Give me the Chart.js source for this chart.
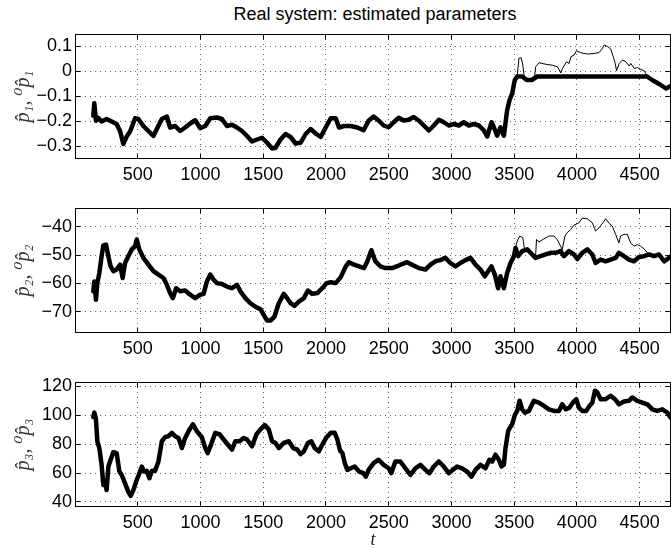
<!DOCTYPE html>
<html>
<head>
<meta charset="utf-8">
<script src="https://cdn.jsdelivr.net/npm/chart.js@4.4.1/dist/chart.umd.min.js"></script>
<style>
  body { margin: 0; background: #fff; width: 671px; height: 549px; overflow: hidden; position: relative; }
  canvas { position: absolute; left: 0; }
  #title { position: absolute; left: 75px; width: 600px; top: 5px; text-align: center;
           font: 18px/18px "Liberation Sans", Arial, Helvetica, sans-serif; color: #000; }
</style>
</head>
<body>
<div id="title">Real system: estimated parameters</div>
<canvas id="c1" width="671" height="185" style="top:0px"></canvas>
<canvas id="c2" width="671" height="174" style="top:185px"></canvas>
<canvas id="c3" width="671" height="190" style="top:359px"></canvas>
<script>
// shared x axis
const xTicks = [500, 1000, 1500, 2000, 2500, 3000, 3500, 4000, 4500];
const xMin = 0, xMax = 4750;

// panel 1: p1 estimate (thick) and 0p1 (thin, only where it leaves the thick one)
const t1 = [146,154,167,186,212,252,292,332,359,385,412,439,479,505,545,585,625,652,692,732,758,798,838,878,918,958,998,1038,1078,1131,1171,1211,1251,1291,1331,1371,1411,1451,1491,1531,1571,1598,1638,1678,1718,1758,1798,1838,1878,1918,1958,1998,2038,2078,2104,2144,2197,2250,2300,2340,2380,2420,2460,2500,2540,2580,2620,2660,2700,2740,2780,2820,2860,2900,2940,2979,3019,3059,3099,3139,3179,3219,3259,3285,3320,3338,3365,3391,3418,3444,3463,3484,3505,3524,3564,3600,3640,3684,4560,4603,4656,4710,4756];
const p1 = [-0.177,-0.127,-0.197,-0.186,-0.200,-0.190,-0.200,-0.210,-0.238,-0.290,-0.260,-0.240,-0.187,-0.190,-0.218,-0.238,-0.258,-0.230,-0.190,-0.180,-0.224,-0.218,-0.238,-0.224,-0.208,-0.195,-0.227,-0.218,-0.187,-0.184,-0.190,-0.218,-0.213,-0.224,-0.238,-0.258,-0.280,-0.272,-0.265,-0.285,-0.308,-0.305,-0.272,-0.250,-0.262,-0.288,-0.285,-0.250,-0.230,-0.248,-0.262,-0.224,-0.187,-0.187,-0.224,-0.218,-0.218,-0.224,-0.235,-0.197,-0.180,-0.196,-0.216,-0.223,-0.203,-0.185,-0.196,-0.193,-0.182,-0.196,-0.216,-0.236,-0.216,-0.193,-0.203,-0.216,-0.210,-0.216,-0.203,-0.216,-0.210,-0.216,-0.236,-0.260,-0.203,-0.223,-0.257,-0.223,-0.257,-0.155,-0.115,-0.088,-0.034,-0.020,-0.020,-0.034,-0.034,-0.020,-0.020,-0.035,-0.050,-0.068,-0.056];
const t1Ref = [3505,3524,3538,3556,3569,3580,3630,3660,3672,3699,3752,3805,3845,3872,3885,3917,3938,3952,3978,3997,4031,4084,4137,4177,4199,4218,4244,4271,4290,4306,4316,4337,4364,4390,4417,4430,4457,4483,4510,4536,4563];
const p1Ref = [-0.034,-0.020,0.053,0.055,0.026,-0.020,-0.034,-0.030,0.019,0.035,0.029,0.025,0.019,-0.006,0.012,0.039,0.032,0.059,0.066,0.083,0.075,0.070,0.072,0.076,0.089,0.106,0.100,0.089,0.059,0.032,0.003,0.032,0.046,0.039,0.022,0.032,0.012,0.016,0.008,0.003,-0.020];
const yTicks1 = [-0.3, -0.2, -0.1, 0, 0.1];

// panel 2
const t2 = [146,154,167,178,194,212,226,247,266,284,306,332,359,380,399,425,452,479,492,513,545,585,625,665,705,732,758,780,806,838,878,918,958,998,1025,1051,1078,1105,1131,1171,1211,1251,1291,1318,1358,1398,1438,1478,1504,1531,1558,1590,1624,1664,1691,1718,1749,1784,1824,1856,1891,1931,1971,2005,2038,2078,2118,2158,2184,2224,2264,2304,2330,2362,2394,2434,2473,2527,2580,2646,2686,2740,2793,2833,2872,2912,2952,2992,3032,3072,3112,3152,3192,3232,3266,3293,3319,3346,3372,3391,3418,3444,3471,3498,3511,3532,3564,3604,3630,3670,3710,3750,3790,3830,3870,3897,3936,3976,4003,4043,4083,4123,4149,4189,4229,4269,4309,4335,4375,4415,4455,4495,4535,4575,4615,4655,4695,4734,4756];
const p2 = [-62.8,-59.3,-65.8,-59.9,-56.3,-50.4,-46.6,-46.3,-50.4,-54.0,-55.7,-55.1,-53.4,-58.1,-52.8,-50.4,-48.0,-46.9,-44.5,-48.0,-51.0,-53.4,-55.7,-56.9,-58.1,-60.5,-63.4,-65.2,-61.7,-62.8,-62.5,-64.0,-65.2,-64.0,-63.7,-59.3,-56.9,-58.7,-59.9,-60.2,-61.1,-61.7,-60.5,-62.8,-65.2,-67.0,-68.2,-69.1,-71.1,-73.1,-73.1,-71.7,-67.0,-63.7,-65.2,-67.0,-67.9,-66.4,-65.2,-62.5,-63.7,-63.4,-61.7,-59.9,-59.6,-59.9,-57.8,-54.0,-52.5,-53.4,-54.0,-54.6,-52.2,-48.3,-52.2,-54.0,-54.6,-54.6,-53.7,-52.5,-53.4,-54.6,-55.1,-53.4,-52.2,-51.8,-51.0,-52.8,-54.0,-52.8,-51.8,-51.0,-53.4,-55.1,-57.5,-55.7,-54.0,-56.9,-61.7,-57.5,-61.7,-56.3,-52.8,-50.4,-47.5,-50.4,-48.6,-48.0,-49.2,-51.0,-50.4,-49.8,-49.2,-49.2,-48.6,-50.4,-48.6,-49.8,-51.4,-49.2,-48.0,-49.8,-52.8,-51.6,-52.2,-51.6,-51.0,-49.2,-50.4,-51.6,-52.2,-50.7,-50.4,-49.8,-50.4,-49.8,-52.2,-51.0,-50.2];
const t2Ref = [3511,3524,3545,3569,3585,3604,3630,3670,3678,3697,3737,3777,3817,3843,3883,3905,3923,3950,3976,4016,4043,4083,4123,4149,4176,4208,4229,4256,4282,4309,4335,4349,4375,4402,4428,4455,4481,4508,4535,4575];
const p2Ref = [-47.5,-45.1,-43.3,-43.9,-48.6,-48.0,-49.2,-51.0,-44.5,-45.4,-44.3,-43.3,-43.3,-44.5,-48.0,-43.3,-42.1,-41.0,-39.5,-38.6,-37.0,-37.2,-38.6,-41.5,-40.4,-38.6,-37.2,-38.8,-39.8,-42.7,-45.7,-43.3,-42.7,-42.7,-45.7,-46.9,-46.3,-46.9,-47.8,-49.8];
const yTicks2 = [-70, -60, -50, -40];

// panel 3 (both estimates coincide)
const t3 = [146,154,167,178,194,212,226,239,252,266,284,306,332,354,372,399,425,444,465,492,519,532,550,572,593,612,638,665,692,718,745,772,798,825,852,878,913,940,971,1011,1038,1057,1084,1118,1153,1185,1217,1251,1278,1312,1344,1371,1411,1446,1478,1512,1544,1571,1598,1624,1664,1704,1739,1771,1798,1824,1856,1883,1910,1944,1971,2005,2038,2070,2091,2113,2131,2150,2171,2197,2229,2264,2299,2318,2340,2380,2420,2460,2500,2521,2553,2593,2633,2673,2713,2753,2793,2825,2859,2899,2939,2979,3011,3045,3085,3125,3160,3192,3232,3271,3303,3325,3351,3378,3399,3418,3431,3452,3466,3484,3505,3524,3543,3564,3585,3617,3657,3697,3737,3777,3817,3857,3883,3910,3942,3968,3995,4016,4043,4075,4101,4123,4144,4163,4189,4229,4269,4303,4335,4375,4415,4442,4481,4522,4562,4601,4641,4681,4721,4748];
const p3 = [98.8,101.8,97.2,82.0,77.3,65.7,51.7,54.0,48.2,64.5,69.2,74.5,73.8,61.0,58.7,52.9,47.0,44.2,48.2,55.2,61.0,64.5,61.0,61.5,56.4,61.5,61.5,68.0,82.0,84.8,85.5,87.8,85.5,84.3,77.3,84.3,90.2,93.7,89.0,84.8,77.3,73.8,79.7,87.8,86.7,83.2,79.7,76.2,82.0,82.0,84.3,83.2,78.5,86.7,90.2,93.2,90.2,82.0,80.8,77.3,80.8,82.0,77.3,76.2,73.1,75.0,80.8,82.0,77.3,75.0,79.7,84.8,87.8,87.8,83.2,75.5,73.8,66.9,62.2,63.3,64.5,61.0,59.9,57.5,62.2,66.9,69.2,65.7,63.3,60.0,68.0,68.0,63.3,58.7,63.3,65.7,62.2,59.9,64.5,68.0,64.5,59.9,62.2,64.5,63.3,61.0,57.5,62.2,65.7,63.3,69.2,68.0,72.7,69.2,64.5,65.7,77.3,89.0,91.3,93.7,100.0,103.0,110.0,104.1,101.8,103.0,110.0,108.8,106.5,104.1,103.0,103.0,107.6,104.1,105.3,108.8,111.1,105.3,103.0,103.0,106.5,108.8,117.0,115.8,111.1,111.1,113.5,111.1,107.6,109.5,110.0,112.3,110.0,108.8,107.6,104.1,103.0,104.1,101.8,98.3];
const yTicks3 = [40, 60, 80, 100, 120];

const sans = '"Liberation Sans", Arial, Helvetica, sans-serif';
const serif = '"Liberation Serif", "DejaVu Serif", serif';

function pts(ts, vs) {
  return ts.map((t, i) => ({ x: t, y: vs[i] }));
}

function fmt(v) {
  return v < 0 ? '\u2212' + String(-v) : String(v);
}

// box round the axes with MATLAB style inward ticks
const frame = {
  id: 'frame',
  afterDraw(chart) {
    const { ctx, chartArea: a, scales: { x, y } } = chart;
    const al = p => Math.round(p - 0.5) + 0.5;
    const L = a.left + 0.5, R = a.right - 0.5, T = a.top + 0.5, B = a.bottom - 0.5;
    ctx.save();
    ctx.strokeStyle = '#000';
    ctx.lineWidth = 1;
    ctx.strokeRect(L, T, R - L, B - T);
    ctx.beginPath();
    x.ticks.forEach(t => {
      const px = al(x.getPixelForValue(t.value));
      ctx.moveTo(px, B); ctx.lineTo(px, B - 5);
      ctx.moveTo(px, T); ctx.lineTo(px, T + 5);
    });
    y.ticks.forEach(t => {
      const py = al(y.getPixelForValue(t.value));
      ctx.moveTo(L, py); ctx.lineTo(L + 5, py);
      ctx.moveTo(R, py); ctx.lineTo(R - 5, py);
    });
    ctx.stroke();
    ctx.restore();
  }
};

function makeChart(id, thick, thin, yMin, yMax, yTicks, yLabel, padTop, xHeight, xLabel) {
  const datasets = [];
  if (thin) {
    datasets.push({ data: thin, borderColor: '#000', borderWidth: 1, pointRadius: 0, clip: 0 });
  }
  datasets.push({ data: thick, borderColor: '#000', borderWidth: 4.5, pointRadius: 0, clip: 0 });

  return new Chart(document.getElementById(id), {
    type: 'line',
    data: { datasets },
    options: {
      responsive: false,
      animation: false,
      events: [],
      layout: { padding: { top: padTop, left: 0, right: 0, bottom: 0 } },
      plugins: { legend: { display: false }, tooltip: { enabled: false } },
      elements: { line: { tension: 0, borderJoinStyle: 'round', borderCapStyle: 'round' } },
      scales: {
        x: {
          type: 'linear',
          min: xMin,
          max: xMax,
          afterBuildTicks: s => { s.ticks = xTicks.map(v => ({ value: v })); },
          afterFit: s => { s.height = xHeight; },
          grid: { color: 'rgba(0,0,0,0.6)', lineWidth: 1, drawTicks: false },
          border: { display: false, dash: [1, 4] },
          ticks: { color: '#000', font: { family: sans, size: 18 }, padding: 5, maxRotation: 0, autoSkip: false,
                   callback: v => String(v) },
          title: xLabel ? { display: true, text: xLabel, color: '#222',
                            font: { family: serif, style: 'italic', size: 18, lineHeight: 1 },
                            padding: { top: 0, bottom: 0 } } : { display: false }
        },
        y: {
          type: 'linear',
          min: yMin,
          max: yMax,
          afterBuildTicks: s => { s.ticks = yTicks.map(v => ({ value: v })); },
          afterFit: s => { s.width = 75; },
          grid: { color: 'rgba(0,0,0,0.6)', lineWidth: 1, drawTicks: false },
          border: { display: false, dash: [1, 4] },
          ticks: { color: '#000', font: { family: sans, size: 18 }, padding: 3, callback: v => fmt(v) },
          title: { display: true, text: yLabel, color: '#333',
                   font: { family: serif, style: 'italic', size: 20, lineHeight: 1 },
                   padding: { top: 14, bottom: 0 } }
        }
      }
    },
    plugins: [frame]
  });
}

makeChart('c1', pts(t1, p1), pts(t1Ref, p1Ref), -0.35, 0.15, yTicks1,
  'p\u0302\u2081, \u2070p\u0302\u2081', 34, 26, null);
makeChart('c2', pts(t2, p2), pts(t2Ref, p2Ref), -77.5, -33.4, yTicks2,
  'p\u0302\u2082, \u2070p\u0302\u2082', 23, 26, null);
makeChart('c3', pts(t3, p3), null, 36.5, 123, yTicks3,
  'p\u0302\u2083, \u2070p\u0302\u2083', 23, 42, 't');
</script>
</body>
</html>
